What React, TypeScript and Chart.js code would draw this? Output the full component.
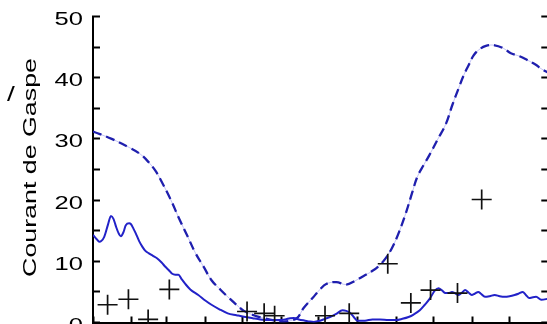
import React, { useEffect, useRef } from "react";
import { Chart, registerables } from "chart.js";

Chart.register(...registerables);

// x axis: day of year, ticks at the first of each month
const monthStarts = [0, 31, 59, 90, 120, 151, 181, 212, 243, 273, 304, 334];
const monthLabels = ["Jan", "Fév", "Mar", "Avr", "Mai", "Jun", "Jul", "Aoû", "Sep", "Oct", "Nov", "Déc"];

const yTitle = "Courant de Gaspe";
const sideMark = "/";

// dashed series
const dashDays = [0, 15, 29, 38, 45, 50, 54, 62, 69, 76, 82, 89, 95, 102, 108, 115, 121, 130, 137, 145, 153, 160, 164, 169, 176, 182, 187, 195, 203, 210, 217, 223, 229, 235, 240, 245, 251, 256, 260, 265, 269, 276, 283, 288, 293, 297, 301, 305, 309, 315, 322, 329, 335, 342, 348, 355, 359, 365];
const dashValues = [31.2, 30.0, 28.6, 27.5, 26.1, 24.8, 23.4, 20.2, 17.0, 14.0, 11.4, 9.0, 6.9, 5.4, 4.2, 2.9, 1.9, 1.1, 0.7, 0.35, 0.15, 0.4, 0.8, 2.4, 4.0, 5.4, 6.3, 6.6, 6.2, 6.8, 7.6, 8.3, 9.2, 10.6, 12.3, 14.6, 18.0, 21.3, 23.8, 25.7, 27.1, 29.8, 32.5, 35.5, 38.2, 40.3, 42.0, 43.6, 44.5, 45.2, 45.3, 44.8, 44.0, 43.5, 42.9, 42.1, 41.5, 40.8];

// solid series
const solidDays = [0, 3, 5, 9, 12, 14.4, 16.5, 18.4, 20.5, 22.3, 24.5, 26.3, 29, 30.3, 32.5, 34.2, 37, 39.5, 42, 44.8, 48, 51.3, 55, 58, 61, 63.2, 66, 68.5, 71, 74, 78, 84.4, 90, 95, 101, 108, 115, 121, 128, 134, 141, 148, 154, 158, 161, 165, 170, 174, 177, 182, 186, 190, 195, 200, 203, 206, 209, 212, 218, 224, 230, 237, 243, 248, 253, 257, 262, 266, 270, 274, 277, 280, 282.5, 285, 287.8, 290, 293, 296, 298.3, 301, 303.6, 306, 308.9, 311, 314.2, 318, 322, 326, 330, 334, 338, 341, 344.5, 347, 349.8, 352, 355.2, 359.4, 365];
const solidValues = [14.3, 13.6, 13.2, 14.0, 16.0, 17.4, 16.9, 15.7, 14.6, 14.1, 14.8, 15.9, 16.2, 16.1, 15.3, 14.6, 13.3, 12.4, 11.7, 11.3, 10.9, 10.5, 9.8, 9.1, 8.5, 8.0, 7.8, 7.8, 7.1, 6.3, 5.4, 4.5, 3.6, 2.9, 2.2, 1.5, 1.2, 0.95, 0.7, 0.5, 0.4, 0.4, 0.5, 0.7, 0.75, 0.5, 0.3, 0.15, 0.1, 0.3, 0.6, 0.9, 1.4, 2.0, 1.9, 1.6, 0.9, 0.3, 0.3, 0.5, 0.5, 0.4, 0.4, 0.6, 0.9, 1.3, 2.0, 2.9, 3.9, 5.2, 5.6, 5.2, 4.8, 4.8, 5.0, 4.8, 4.5, 4.9, 5.3, 4.9, 4.5, 4.7, 5.0, 4.7, 4.2, 4.3, 4.5, 4.3, 4.2, 4.3, 4.5, 4.7, 5.0, 4.5, 4.0, 4.1, 4.2, 3.7, 3.9];

// cross markers
const crossDays = [11.7, 28.4, 44.2, 61.2, 123.5, 137.2, 145.6, 186, 205.4, 236.3, 254.8, 270.6, 292.2, 311.6];
const crossValues = [2.9, 3.8, 0.5, 5.4, 1.8, 1.5, 1.1, 1.1, 1.5, 9.6, 3.2, 5.3, 4.8, 20.1];

const yTicks = [0, 5, 10, 15, 20, 25, 30, 35, 40, 45, 50];

const W = 560;
const H = 360;

const toXY = (xs: number[], ys: number[]) => xs.map((x, i) => ({ x, y: ys[i] }));

const stretchedText = {
  id: "stretchedText",
  afterDraw(chart: any) {
    const ctx = chart.ctx;
    const y = chart.scales.y;
    ctx.save();
    ctx.fillStyle = "#000";
    ctx.textBaseline = "alphabetic";
    ctx.font = '18.5px "Liberation Sans", Arial, sans-serif';
    ctx.textAlign = "right";
    y.ticks.forEach((t: any) => {
      if (!t.label) return;
      const py = y.getPixelForValue(t.value);
      ctx.save();
      ctx.translate(y.right - 10, py + 8.5);
      ctx.scale(1.38, 1);
      ctx.fillText(t.label, 0, 0);
      ctx.restore();
    });
    // axis title
    ctx.save();
    ctx.font = '19px "Liberation Sans", Arial, sans-serif';
    ctx.textAlign = "center";
    ctx.translate(35.5, (y.top + y.bottom) / 2 - 2);
    ctx.rotate(-Math.PI / 2);
    ctx.scale(1.41, 1);
    ctx.fillText(yTitle, 0, 0);
    ctx.restore();
    // side mark
    ctx.save();
    ctx.font = '20px "Liberation Sans", Arial, sans-serif';
    ctx.textAlign = "center";
    ctx.translate(11, 101);
    ctx.scale(1.4, 1);
    ctx.fillText(sideMark, 0, 0);
    ctx.restore();
    ctx.restore();
  },
};

export default function App() {
  const ref = useRef<HTMLCanvasElement | null>(null);
  useEffect(() => {
    if (!ref.current) return;
    Chart.defaults.font.family = '"Liberation Sans", Arial, sans-serif';
    const blue = "#2222c8";
    const dashBlue = "#1f1fae";
    const chart = new Chart(ref.current, {
      type: "line",
      data: {
        datasets: [
          {
            type: "scatter",
            label: "obs",
            data: toXY(crossDays, crossValues),
            pointStyle: "cross",
            pointRadius: 10,
            pointBorderWidth: 1.7,
            borderColor: "#111",
            backgroundColor: "#111",
            showLine: false,
            clip: false as any,
          } as any,
          {
            label: "solid",
            data: toXY(solidDays, solidValues),
            borderColor: blue,
            borderWidth: 2,
            pointRadius: 0,
            cubicInterpolationMode: "monotone",
            fill: false,
          },
          {
            label: "dashed",
            data: toXY(dashDays, dashValues),
            borderColor: dashBlue,
            borderWidth: 2.3,
            borderDash: [9, 5],
            pointRadius: 0,
            tension: 0.4,
            fill: false,
          },
          {
            label: "dashed-faint",
            data: toXY(dashDays, dashValues),
            borderColor: "rgba(120,120,235,0.45)",
            borderWidth: 1,
            pointRadius: 0,
            tension: 0.4,
            fill: false,
          },
        ],
      },
      options: {
        responsive: false,
        animation: false,
        layout: { padding: { left: 0, top: 16.5, right: W - 553.4, bottom: 0 } },
        plugins: { legend: { display: false }, tooltip: { enabled: false } },
        scales: {
          x: {
            type: "linear",
            position: "bottom",
            min: 0,
            max: 365,
            afterBuildTicks: (s: any) => {
              s.ticks = monthStarts.map((v) => ({ value: v }));
            },
            afterFit: (s: any) => {
              s.height = H - 322.5;
            },
            ticks: {
              callback: (v: any) => monthLabels[monthStarts.indexOf(Number(v))] ?? "",
              color: "#000",
              font: { size: 16 },
              padding: 14,
              maxRotation: 0,
              autoSkip: false,
            },
            grid: { display: true, drawOnChartArea: false, tickLength: -6, tickWidth: 2, tickColor: "#000" },
            border: { display: true, width: 2, color: "#000" },
          },
          y: {
            type: "linear",
            position: "left",
            min: 0,
            max: 50,
            afterBuildTicks: (s: any) => {
              s.ticks = yTicks.map((v) => ({ value: v }));
            },
            afterFit: (s: any) => {
              s.width = 93;
            },
            ticks: {
              display: false,
              callback: (v: any) => (Number(v) % 10 === 0 ? String(v) : ""),
            },
            grid: { display: true, drawOnChartArea: false, tickLength: -7, tickWidth: 2, tickColor: "#000" },
            border: { display: true, width: 2, color: "#000" },
          },
          y2: {
            type: "linear",
            position: "right",
            min: 0,
            max: 50,
            afterBuildTicks: (s: any) => {
              s.ticks = yTicks.map((v) => ({ value: v }));
            },
            afterFit: (s: any) => {
              s.width = 0;
            },
            ticks: { display: false },
            grid: { display: true, drawOnChartArea: false, tickLength: -7, tickWidth: 2, tickColor: "#000" },
            border: { display: true, width: 2, color: "#000" },
          },
        },
      } as any,
      plugins: [stretchedText],
    });
    return () => chart.destroy();
  }, []);
  return (
    <div style={{ position: "fixed", left: 0, top: 0, width: W, height: H, overflow: "hidden", background: "#fff" }}>
      <canvas ref={ref} width={W} height={H} style={{ width: W, height: H, display: "block" }} />
    </div>
  );
}
